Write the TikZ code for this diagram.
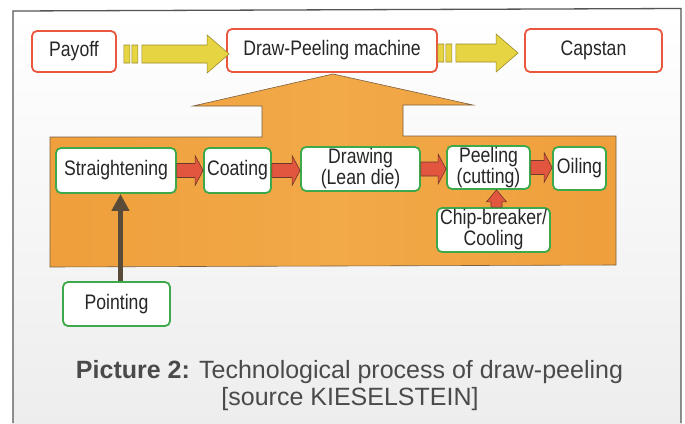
\documentclass[tikz,border=0pt]{standalone}
\usepackage{fontspec}
\setmainfont{Liberation Sans}
\newfontfamily\narrowfont[FakeStretch=0.84]{Liberation Sans}
\usetikzlibrary{calc,arrows.meta}
\definecolor{boxred}{HTML}{E9573F}
\definecolor{boxgreen}{HTML}{3DA94A}
\definecolor{textgray}{HTML}{262626}
\definecolor{captiongray}{HTML}{4A4A4A}
\definecolor{arrowyellow}{HTML}{E6D443}
\definecolor{yellowedge}{HTML}{9C8B2A}
\definecolor{arroworange}{HTML}{EF9F3C}
\definecolor{orangelight}{HTML}{F2A948}
\definecolor{orangeedge}{HTML}{7A6040}
\definecolor{arrowred}{HTML}{E2553E}
\definecolor{rededge}{HTML}{6B3A2A}
\definecolor{brownarrow}{HTML}{5A4A38}
\definecolor{framegray}{HTML}{555555}

\newcommand\redarrow[2]{%
  \path[rarrow] let \p1=(#1.east), \p2=(#2.west) in
    (\x1,\y1+7pt) -- (\x2-8pt,\y1+7pt) -- (\x2-8pt,\y1+15pt) -- (\x2,\y1)
    -- (\x2-8pt,\y1-15pt) -- (\x2-8pt,\y1-7pt) -- (\x1,\y1-7pt) -- cycle;}

\newcommand\yellowarrow[4]{%
  \path[yarrow] let \p1=(#1.east), \p2=(#2.west), \n1={\y1-2.5pt} in
    (\x1+#3,\n1+9pt) rectangle (\x1+#3+6pt,\n1-9pt)
    (\x1+#3+8pt,\n1+9pt) rectangle (\x1+#3+14pt,\n1-9pt)
    (\x1+#3+18pt,\n1+9pt) -- (\x2+#4-22pt,\n1+9pt) -- (\x2+#4-22pt,\n1+19pt)
    -- (\x2+#4,\n1) -- (\x2+#4-22pt,\n1-19pt) -- (\x2+#4-22pt,\n1-9pt)
    -- (\x1+#3+18pt,\n1-9pt) -- cycle;}

\begin{document}
\begin{tikzpicture}[x=1pt,y=-1pt,
  boxtext/.style={font=\narrowfont\fontsize{21}{21}\selectfont, text=textgray,
    align=center, inner sep=0pt},
  redbox/.style={boxtext, draw=boxred, line width=1.8pt, rounded corners=5pt, fill=white,
    minimum height=43pt},
  greenbox/.style={boxtext, draw=boxgreen, line width=1.8pt, rounded corners=5pt, fill=white,
    minimum height=44pt},
  yarrow/.style={fill=arrowyellow, draw=yellowedge, line width=0.6pt},
  rarrow/.style={fill=arrowred, draw=rededge, line width=0.6pt},
  caption/.style={font=\fontsize{25}{27}\selectfont, text=captiongray, inner sep=0pt, anchor=base}
]
\useasboundingbox (0,0) rectangle (685,423);
\fill[white] (0,0) rectangle (685,423);
\shade[top color=white, bottom color=black!7] (13,10) rectangle (681,423);
\draw[framegray, line width=1.3pt] (13,423) -- (13,11) -- (681,8.5) -- (681,423);

% big orange arrow
\path[left color=arroworange, right color=arroworange, middle color=orangelight,
      draw=orangeedge, line width=0.6pt]
  (333,74) -- (473,105) -- (403,105) -- (403,136) -- (616,136) -- (616,265)
  -- (50,267) -- (50,137) -- (262,137) -- (262,106) -- (193,106) -- cycle;

% top row
\node[redbox, minimum width=84pt, minimum height=41pt] (payoff) at (74,51.5) {Payoff};
\node[redbox, minimum width=210pt] (machine) at (332,50.5) {Draw-Peeling machine};
\node[redbox, minimum width=137pt] (capstan) at (593.5,50.5) {Capstan};

% process row
\node[greenbox, minimum width=120pt, minimum height=45pt] (straight) at (116,170.5) {Straightening};
\node[greenbox, minimum width=67pt, minimum height=45pt] (coating) at (237.5,170.5) {Coating};
\node[greenbox, minimum width=119pt] (drawing) at (360.5,169) {Drawing\\(Lean die)};
\node[greenbox, minimum width=83pt, minimum height=43pt] (peeling) at (488.5,167.5) {Peeling\\(cutting)};
\node[greenbox, minimum width=53pt, minimum height=43pt] (oiling) at (579.5,168.5) {Oiling};
\node[greenbox, minimum width=113pt] (chip) at (493.5,230) {Chip-breaker/\\Cooling};
\node[greenbox, minimum width=107pt] (pointing) at (116.5,304) {Pointing};

% yellow arrows
\yellowarrow{payoff}{machine}{7pt}{3pt}
\yellowarrow{machine}{capstan}{0pt}{-6pt}

% red arrows
\redarrow{straight}{coating}
\redarrow{coating}{drawing}
\redarrow{drawing}{peeling}
\redarrow{peeling}{oiling}

% chip-breaker up arrow
\path[rarrow] let \p1=($(chip.north)+(3,0)$), \p2=(peeling.south) in
  (\x1-5.5pt,\y1) -- (\x1-5.5pt,\y2-12pt) -- (\x1-10pt,\y2-12pt) -- (\x1,\y2)
  -- (\x1+10pt,\y2-12pt) -- (\x1+5.5pt,\y2-12pt) -- (\x1+5.5pt,\y1) -- cycle;

% pointing arrow
\draw[brownarrow, line width=5pt, -{Triangle[length=17pt,width=17pt]}]
  ([xshift=4pt]pointing.north) -- ([xshift=4pt]pointing.north |- straight.south);

% caption
\node[caption] (cap1) at (349.5,378) {\textbf{Picture 2:} Technological process of draw-peeling};
\node[caption] (cap2) at (350,405) {[source KIESELSTEIN]};
\end{tikzpicture}
\end{document}
